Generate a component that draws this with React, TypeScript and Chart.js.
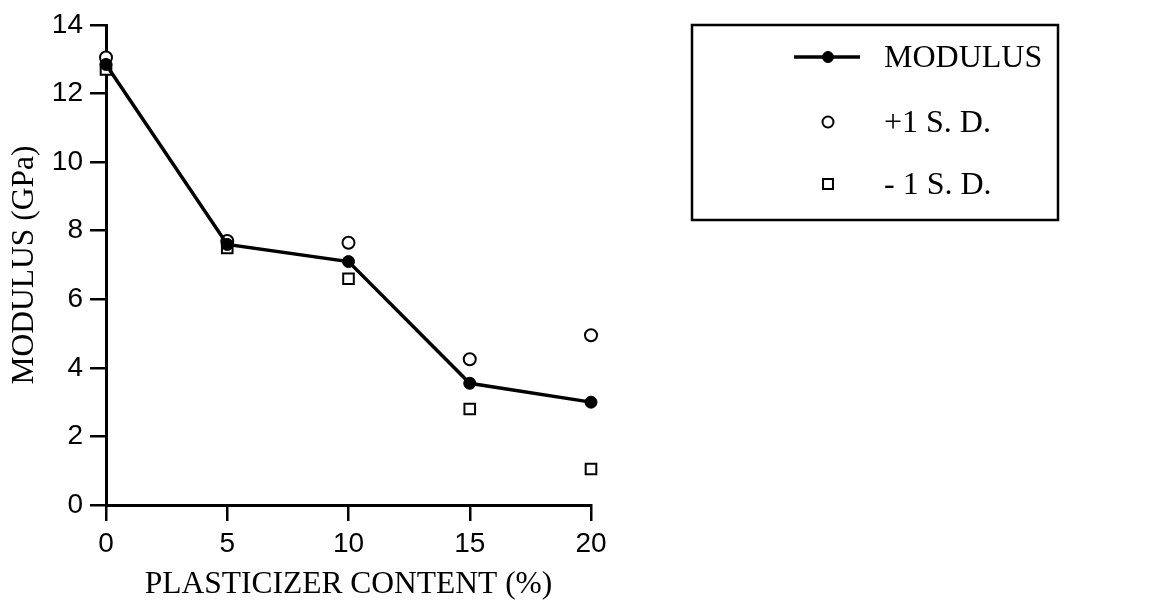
import React, { useEffect, useRef } from "react";
import { Chart, registerables } from "chart.js";

Chart.register(...registerables);

const xValues = [0, 5, 10, 15, 20];
const modulus = [12.85, 7.6, 7.1, 3.55, 3.0];
const plusSD = [13.05, 7.7, 7.65, 4.25, 4.95];
const minusSD = [12.7, 7.5, 6.6, 2.8, 1.05];
const seriesLabels = ["MODULUS", "+1 S. D.", "- 1 S. D."];
const xTitle = "PLASTICIZER CONTENT (%)";
const yTitle = "MODULUS (GPa)";

const toPts = (ys: number[]) => xValues.map((x, i) => ({ x, y: ys[i] }));

const legendPlugin = {
  id: "boxLegend",
  afterDraw(chart: any) {
    const ctx = chart.ctx;
    ctx.save();
    const bx = 692, by = 25, bw = 366, bh = 195;
    ctx.strokeStyle = "#000";
    ctx.lineWidth = 2.5;
    ctx.strokeRect(bx, by, bw, bh);
    const rows = [57, 122, 184];
    const symX = 828;
    const textX = 884;
    ctx.font = "32px 'Liberation Serif'";
    ctx.textBaseline = "middle";
    ctx.textAlign = "left";
    chart.data.datasets.forEach((ds: any, i: number) => {
      const y = rows[i];
      if (ds.showLine) {
        ctx.beginPath();
        ctx.lineWidth = ds.borderWidth;
        ctx.strokeStyle = ds.borderColor;
        ctx.moveTo(symX - 34, y);
        ctx.lineTo(symX + 32, y);
        ctx.stroke();
      }
      ctx.lineWidth = ds.pointBorderWidth;
      ctx.strokeStyle = ds.pointBorderColor;
      ctx.fillStyle = ds.pointBackgroundColor;
      const r = ds.legendRadius;
      ctx.beginPath();
      if (ds.pointStyle === "rect") {
        const h = r * Math.SQRT1_2;
        ctx.rect(symX - h, y - h, 2 * h, 2 * h);
      } else {
        ctx.arc(symX, y, r, 0, Math.PI * 2);
      }
      ctx.fill();
      ctx.stroke();
      ctx.fillStyle = "#000";
      ctx.fillText(ds.label, textX, y + 2);
    });
    ctx.restore();
  },
};

export default function App() {
  const ref = useRef<HTMLCanvasElement>(null);
  useEffect(() => {
    if (!ref.current) return;
    const chart = new Chart(ref.current, {
      type: "scatter",
      data: {
        datasets: [
          {
            label: seriesLabels[0],
            data: toPts(modulus),
            showLine: true,
            clip: false,
            borderColor: "#000",
            borderWidth: 3.5,
            pointStyle: "circle",
            pointRadius: 6,
            pointBackgroundColor: "#000",
            pointBorderColor: "#000",
            pointBorderWidth: 1,
            legendRadius: 5.5,
            order: 0,
          } as any,
          {
            label: seriesLabels[1],
            data: toPts(plusSD),
            showLine: false,
            clip: false,
            pointStyle: "circle",
            pointRadius: 6,
            pointBackgroundColor: "#fff",
            pointBorderColor: "#000",
            pointBorderWidth: 2,
            legendRadius: 5.5,
            order: 1,
          } as any,
          {
            label: seriesLabels[2],
            data: toPts(minusSD),
            showLine: false,
            clip: false,
            pointStyle: "rect",
            pointRadius: 7.5,
            pointBackgroundColor: "#fff",
            pointBorderColor: "#000",
            pointBorderWidth: 2,
            legendRadius: 7,
            order: 2,
          } as any,
        ],
      },
      options: {
        animation: false,
        responsive: false,
        layout: { padding: { left: 0, right: 563, top: 25, bottom: 0 } },
        plugins: { legend: { display: false }, tooltip: { enabled: false } },
        scales: {
          x: {
            type: "linear",
            min: 0,
            max: 20,
            ticks: {
              stepSize: 5,
              color: "#000",
              font: { family: "'Liberation Sans'", size: 28 },
              padding: 6,
            },
            grid: {
              drawOnChartArea: false,
              drawTicks: true,
              tickLength: 16,
              color: "#000",
              lineWidth: 2.5,
            },
            border: { display: true, color: "#000", width: 3 },
            title: {
              display: true,
              text: xTitle,
              color: "#000",
              font: { family: "'Liberation Serif'", size: 31.5 },
              padding: { top: 0, bottom: 2 },
            },
            afterFit: (s: any) => {
              s.height = 101;
            },
          },
          y: {
            type: "linear",
            min: 0,
            max: 14,
            ticks: {
              stepSize: 2,
              color: "#000",
              font: { family: "'Liberation Sans'", size: 28 },
              padding: 7,
            },
            grid: {
              drawOnChartArea: false,
              drawTicks: true,
              tickLength: 16,
              color: "#000",
              lineWidth: 2.5,
            },
            border: { display: true, color: "#000", width: 3 },
            title: {
              display: true,
              text: yTitle,
              color: "#000",
              font: { family: "'Liberation Serif'", size: 31.5 },
              padding: { top: 6, bottom: 0 },
            },
            afterFit: (s: any) => {
              s.width = 106;
            },
          },
        },
      },
      plugins: [legendPlugin],
    });
    return () => chart.destroy();
  }, []);
  return (
    <div style={{ position: "fixed", left: 0, top: 0, width: 1154, height: 606, background: "#fff" }}>
      <canvas ref={ref} width={1154} height={606} />
    </div>
  );
}
